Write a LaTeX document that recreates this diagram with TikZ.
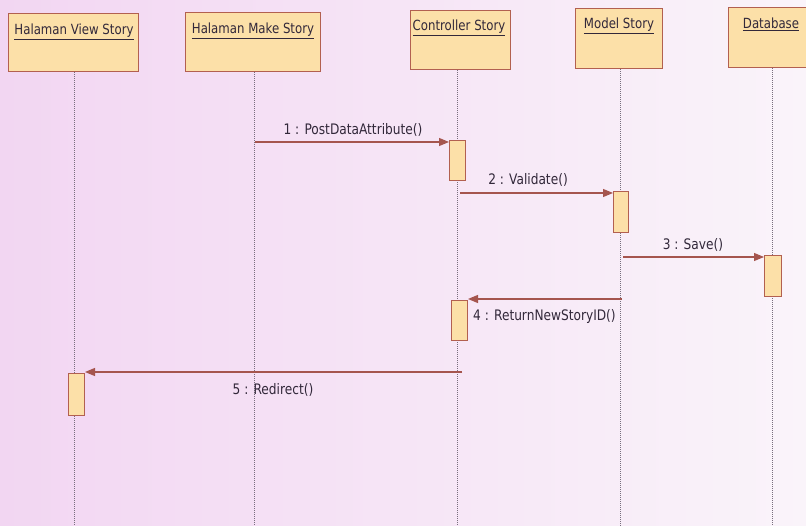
\documentclass[tikz,border=0pt]{standalone}
\usepackage{fontspec}
\setmainfont{DejaVu Sans}[FakeStretch=0.84]
\usetikzlibrary{arrows.meta,shadings}
\definecolor{bgleft}{RGB}{242,214,242}
\definecolor{bgright}{RGB}{250,244,250}
\definecolor{boxfill}{RGB}{252,224,168}
\definecolor{boxdraw}{RGB}{178,96,80}
\definecolor{msgcol}{RGB}{165,85,78}
\definecolor{txtcol}{RGB}{50,40,58}
\definecolor{lifecol}{RGB}{120,110,125}
\tikzset{
  x=1pt, y=-1pt,
  head/.style={draw=boxdraw, line width=1.1pt, fill=boxfill, anchor=north west, inner sep=0pt},
  headlabel/.style={text=txtcol, font=\fontsize{14}{16}\selectfont, anchor=center, inner sep=0pt},
  lifeline/.style={draw=lifecol, line width=0.6pt, dash pattern=on 1pt off 1pt},
  actbox/.style={draw=boxdraw, line width=1pt, fill=boxfill, anchor=north west, inner sep=0pt, minimum width=16pt},
  msg/.style={draw=msgcol, line width=1.1pt, -{Triangle[length=10pt,width=8pt]}},
  msglabel/.style={text=txtcol, font=\fontsize{14.5}{16}\selectfont, inner sep=0pt},
}
\begin{document}
\begin{tikzpicture}
\shade[left color=bgleft, right color=bgright] (0,0) rectangle (806,526);
\useasboundingbox (0,0) rectangle (806,526);
% header boxes
\node[head, minimum width=130pt, minimum height=58pt] (h1) at (8,13) {};
\node[head, minimum width=135pt, minimum height=59pt] (h2) at (185,12) {};
\node[head, minimum width=100pt, minimum height=59pt] (h3) at (410,10) {};
\node[head, minimum width=87pt, minimum height=60pt] (h4) at (575,8) {};
\node[head, minimum width=90pt, minimum height=60pt] (h5) at (728,7) {};
\node[headlabel] (t1) at (74,32) {\underline{Halaman View Story}};
\node[headlabel] (t2) at (253,31) {\underline{Halaman Make Story}};
\node[headlabel] (t3) at (459,28) {\underline{Controller Story}};
\node[headlabel] (t4) at (619,26) {\underline{Model Story}};
\node[headlabel] (t5) at (771,24) {\underline{Database}};
% lifelines
\coordinate (e1) at (74,526);
\coordinate (e2) at (254,526);
\coordinate (e3) at (457,526);
\coordinate (e4) at (620,526);
\coordinate (e5) at (772,526);
\draw[lifeline] (h1.south -| e1) -- (e1);
\draw[lifeline] (h2.south -| e2) -- (e2);
\draw[lifeline] (h3.south -| e3) -- (e3);
\draw[lifeline] (h4.south -| e4) -- (e4);
\draw[lifeline] (h5.south -| e5) -- (e5);
% activations
\node[actbox, minimum height=40pt] (a1) at (449,140) {};
\node[actbox, minimum width=15pt, minimum height=41pt] (a2) at (613,191) {};
\node[actbox, minimum width=17pt, minimum height=41pt] (a3) at (764,255) {};
\node[actbox, minimum height=40pt] (a4) at (451,300) {};
\node[actbox, minimum height=42pt] (a5) at (68,373) {};
% messages
\coordinate (s1) at (255,142);
\draw[msg] (s1) -- (s1 -| a1.west);
\node[msglabel] (l1) at (353,130) {1 : PostDataAttribute()};
\coordinate (s2) at (460,193);
\draw[msg] (s2) -- (s2 -| a2.west);
\node[msglabel] (l2) at (528,180) {2 : Validate()};
\coordinate (s3) at (623,257);
\draw[msg] (s3) -- (s3 -| a3.west);
\node[msglabel] (l3) at (693,245) {3 : Save()};
\coordinate (s4) at (622,299);
\draw[msg] (s4) -- (s4 -| a4.east);
\node[msglabel, anchor=west] (l4) at (473,317) {4 : ReturnNewStoryID()};
\coordinate (s5) at (462,372);
\draw[msg] (s5) -- (s5 -| a5.east);
\node[msglabel] (l5) at (273,390) {5 : Redirect()};
\end{tikzpicture}
\end{document}
